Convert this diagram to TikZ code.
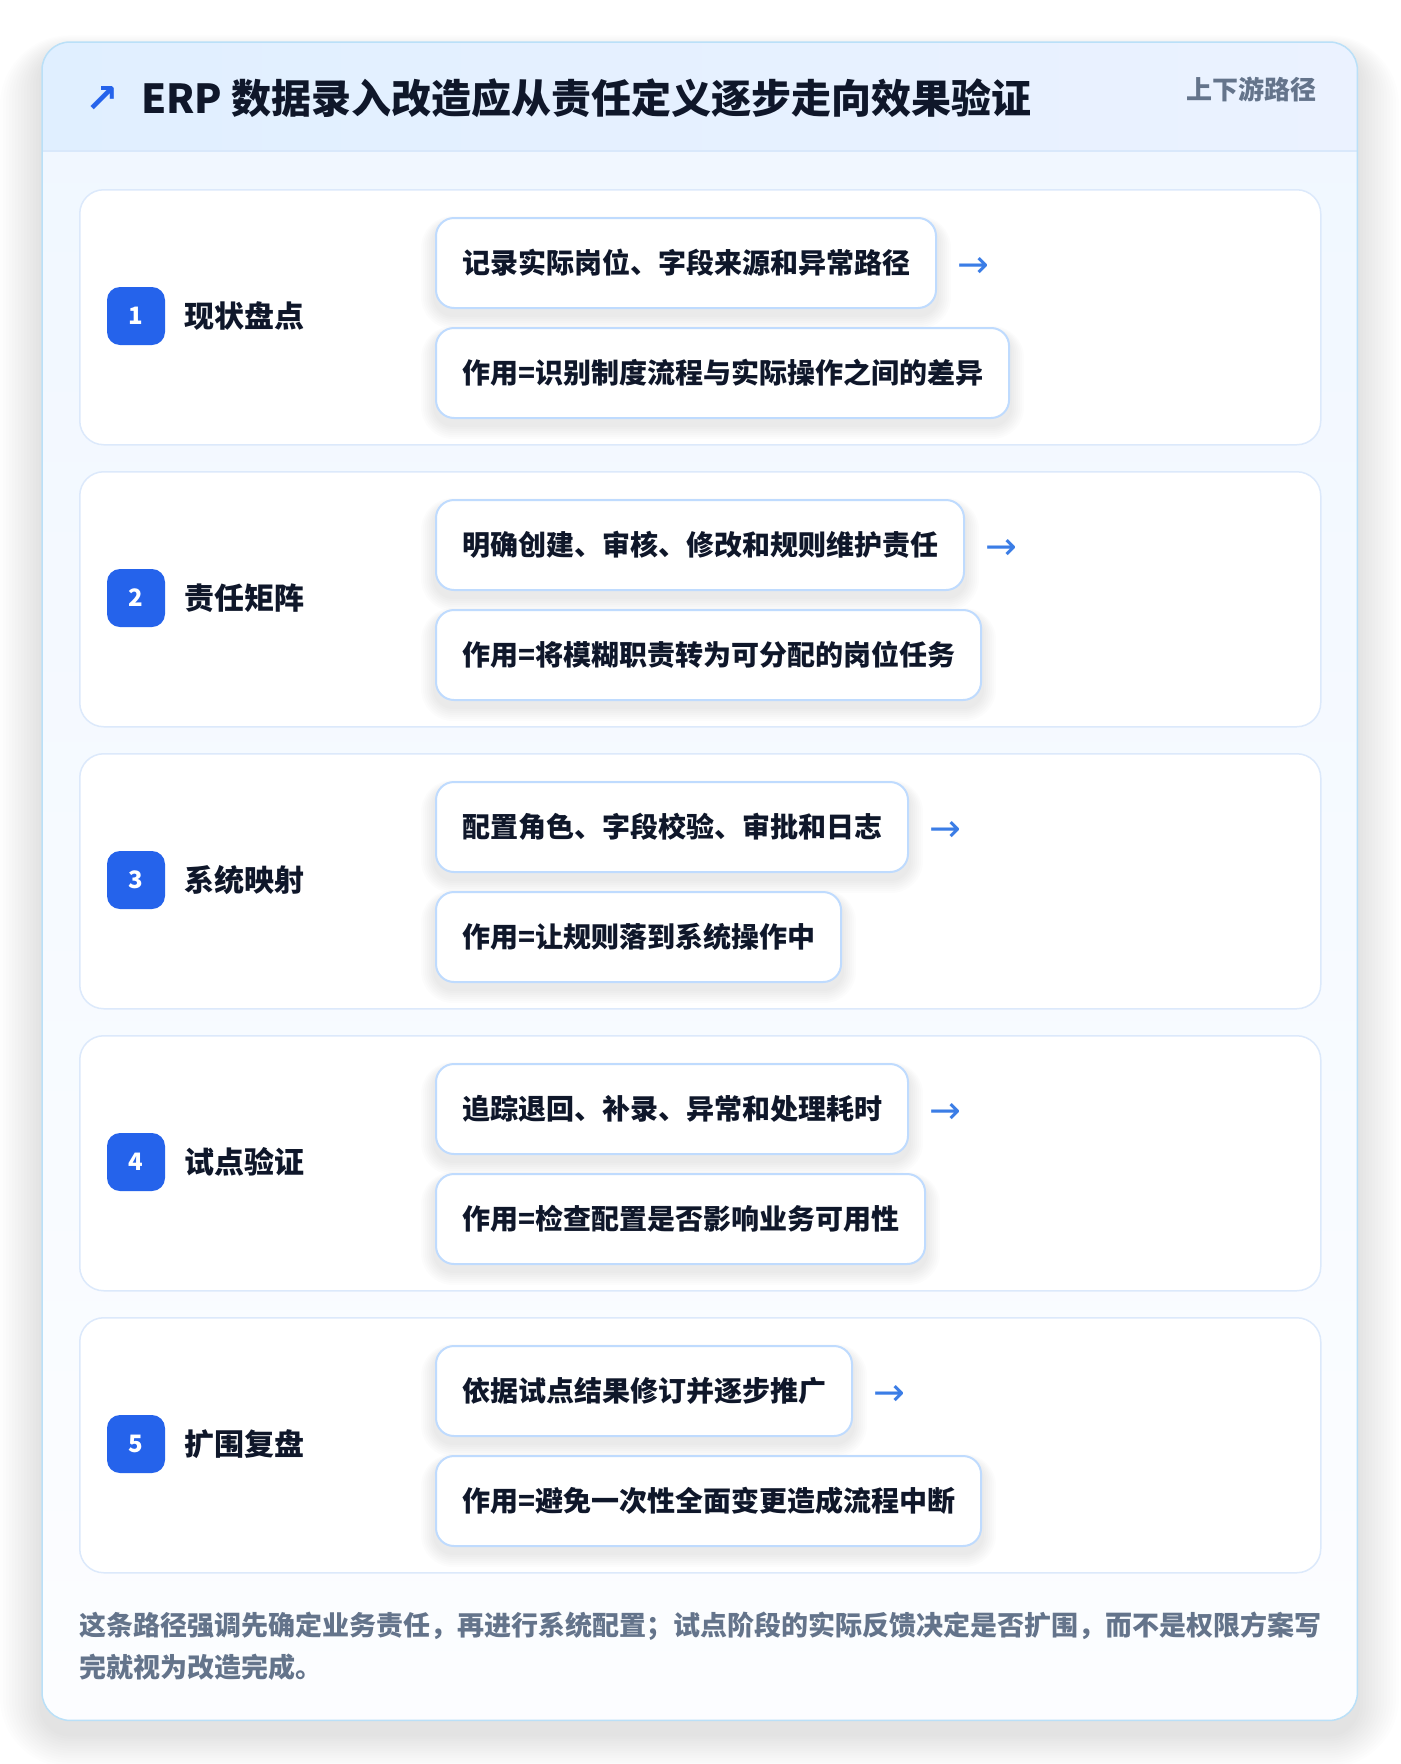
\documentclass[tikz,border=0pt]{standalone}
\usepackage{fontspec}
\setmainfont{Noto Sans CJK SC}
\newfontfamily\symfont{DejaVu Sans}
\definecolor{badge}{HTML}{2563EB}
\definecolor{ink}{HTML}{0F172A}
\definecolor{muted}{HTML}{64748B}
\definecolor{arrowc}{HTML}{3B7DE6}
\definecolor{itemline}{HTML}{BFDBFE}
\definecolor{rowline}{HTML}{DCE9FB}
\definecolor{cardline}{HTML}{BAE0F8}
\definecolor{hdrL}{HTML}{E0EFFF}
\definecolor{hdrR}{HTML}{EBF2FF}
\definecolor{hdrline}{HTML}{D9E8FB}
\definecolor{bodyT}{HTML}{F0F7FF}
\definecolor{bodyB}{HTML}{FCFDFF}
\definecolor{shade}{HTML}{1E293B}
\pgfdeclarelayer{lzero}
\pgfdeclarelayer{lone}
\pgfdeclarelayer{ltwo}
\pgfsetlayers{lzero,lone,ltwo,main}
\tikzset{
  card/.style={anchor=north west, inner sep=0pt, minimum width=1315pt, minimum height=1678pt,
    rounded corners=28pt, top color=bodyT, bottom color=bodyB},
  rowbox/.style={draw=rowline, line width=1.5pt, rounded corners=24pt, fill=white,
    minimum width=1241pt, minimum height=255pt, anchor=north west, inner sep=0pt},
  badgebox/.style={fill=badge, rounded corners=13pt, minimum size=58pt, inner sep=0pt,
    text=white, font=\bfseries\fontsize{24pt}{24pt}\selectfont},
  lab/.style={anchor=west, inner sep=0pt, text=ink, font=\bfseries\fontsize{30pt}{30pt}\selectfont},
  itembox/.style={draw=itemline, line width=2pt, fill=white, rounded corners=18pt,
    minimum height=90pt, inner xsep=26pt, inner ysep=0pt, anchor=north west, text=ink,
    font=\bfseries\fontsize{28pt}{28pt}\selectfont},
  arrowtxt/.style={anchor=west, inner sep=0pt, text=arrowc, font=\symfont\fontsize{38pt}{38pt}\selectfont},
  titletxt/.style={anchor=west, inner sep=0pt, text=ink, font=\bfseries\fontsize{40pt}{40pt}\selectfont},
  tagtxt/.style={anchor=east, inner sep=0pt, text=muted, font=\bfseries\fontsize{26pt}{26pt}\selectfont},
  notetxt/.style={anchor=base west, inner sep=0pt, text=muted, font=\bfseries\fontsize{27pt}{42pt}\selectfont},
  softshadow/.style={fill=shade, opacity=0.012}
}
\begin{document}
\begin{tikzpicture}[x=1pt,y=1pt]
\useasboundingbox (0,0) rectangle (1400,-1764);
\begin{pgfonlayer}{lzero}
\fill[white] (0,0) rectangle (1400,-1764);
% card shadow
\foreach \k in {1,...,14}{
  \pgfmathsetmacro{\rr}{28+3*\k}
  \fill[fill=shade, opacity=0.006, rounded corners=\rr pt]
    (42-3*\k, -42-10+1.2*\k) rectangle (1357+3*\k, -1720-14-2.4*\k);
}
% card
\node[card] (card) at (42,-42) {};
\begin{scope}
  \clip[rounded corners=28pt] (card.north west) rectangle (card.south east);
  \fill[left color=hdrL, right color=hdrR] (42,-42) rectangle (1357,-151);
  \draw[hdrline, line width=1.5pt] (42,-151) -- (1357,-151);
\end{scope}
\draw[cardline, line width=1.5pt, rounded corners=28pt] (card.north west) rectangle (card.south east);
\end{pgfonlayer}
% header
\node[inner sep=0pt, text=badge, font=\symfont\bfseries\fontsize{40pt}{40pt}\selectfont] (icon) at (102,-100) {↗};
\node[titletxt] (title) at (141,-98) {ERP 数据录入改造应从责任定义逐步走向效果验证};
\node[tagtxt] (tag) at (1317,-89) {上下游路径};
% rows
\foreach \i/\lab/\ta/\tb in {
  1/现状盘点/记录实际岗位、字段来源和异常路径/作用=识别制度流程与实际操作之间的差异,
  2/责任矩阵/明确创建、审核、修改和规则维护责任/作用=将模糊职责转为可分配的岗位任务,
  3/系统映射/配置角色、字段校验、审批和日志/作用=让规则落到系统操作中,
  4/试点验证/追踪退回、补录、异常和处理耗时/作用=检查配置是否影响业务可用性,
  5/扩围复盘/依据试点结果修订并逐步推广/作用=避免一次性全面变更造成流程中断}{
  \pgfmathsetmacro{\top}{-189-282*(\i-1)}
  \begin{pgfonlayer}{lone}
    \node[rowbox] (row\i) at (79,\top) {};
  \end{pgfonlayer}
  \node[badgebox] (badge\i) at (136,\top-127) {\i};
  \node[lab] (label\i) at (184,\top-127) {\lab};
  \node[itembox] (a\i) at (435,\top-28) {\ta};
  \node[itembox] (b\i) at (435,\top-138) {\tb};
  \node[arrowtxt] (arr\i) at ([xshift=20pt,yshift=-4pt]a\i.east) {→};
  \begin{pgfonlayer}{ltwo}
    \foreach \bx in {a\i,b\i}{
      \foreach \k in {1,...,7}{
        \pgfmathsetmacro{\rr}{18+2*\k}
        \fill[softshadow, rounded corners=\rr pt]
          ([xshift=-2*\k pt, yshift=-6pt-2*\k pt]\bx.south west) rectangle
          ([xshift=2*\k pt, yshift=-6pt+1*\k pt]\bx.north east);
      }
    }
  \end{pgfonlayer}
}
% note
\node[notetxt] (note1) at (79,-1635) {这条路径强调先确定业务责任，再进行系统配置；试点阶段的实际反馈决定是否扩围，而不是权限方案写};
\node[notetxt] (note2) at (79,-1677) {完就视为改造完成。};
\end{tikzpicture}
\end{document}
